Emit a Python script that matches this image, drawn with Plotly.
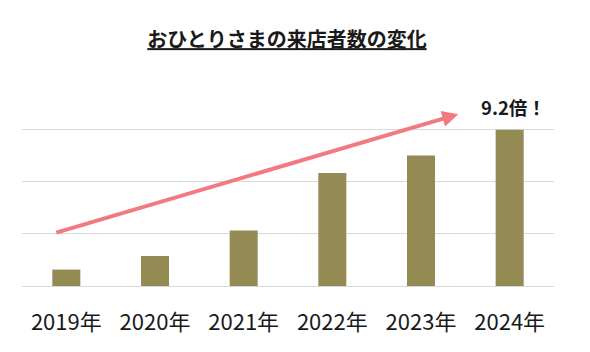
import plotly.graph_objects as go

# Data (values in grid units; top gridline = 3)
years = ["2019年", "2020年", "2021年", "2022年", "2023年", "2024年"]
visitors = [0.315, 0.576, 1.063, 2.169, 2.503, 3.0]
title_text = "おひとりさまの来店者数の変化"
growth_label = "9.2倍！"

FONT = "Noto Sans CJK JP"

fig = go.Figure()
fig.add_trace(go.Bar(
    x=years, y=visitors,
    marker=dict(color="#948A54", line=dict(width=0)),
    hoverinfo="skip",
))

# Trend arrow
fig.add_annotation(
    x=4.42, y=3.296, ax=-0.13, ay=1.017,
    xref="x", yref="y", axref="x", ayref="y",
    text="", showarrow=True, arrowhead=2, arrowsize=0.8,
    arrowwidth=4, arrowcolor="#F3787F", standoff=0, startstandoff=0,
)
# Growth label
fig.add_annotation(
    x=5.04, y=3.44, xref="x", yref="y",
    text="<b>" + growth_label + "</b>", showarrow=False,
    font=dict(family=FONT, size=18.5, color="#1a1a1a"),
    xanchor="center", yanchor="middle",
)

fig.update_layout(
    width=590, height=352,
    margin=dict(l=22, r=36, t=98, b=66),
    paper_bgcolor="white", plot_bgcolor="white",
    showlegend=False,
    bargap=0.684,
    title=dict(
        text="<b><u>" + title_text + "</u></b>",
        x=0.4864, xanchor="center", y=0.886, yanchor="middle",
        font=dict(family=FONT, size=20, color="#1a1a1a"),
    ),
    xaxis=dict(
        showgrid=False, showline=False, ticks="",
        tickfont=dict(family=FONT, size=22, color="#1a1a1a"),
        ticklabelstandoff=21,
    ),
    yaxis=dict(
        range=[0, 3.608], dtick=1, tick0=0,
        showgrid=True, gridcolor="#D9D9D9", gridwidth=1,
        zeroline=True, zerolinecolor="#D9D9D9", zerolinewidth=1,
        showticklabels=False, ticks="",
    ),
)

fig.write_html("out.html")
